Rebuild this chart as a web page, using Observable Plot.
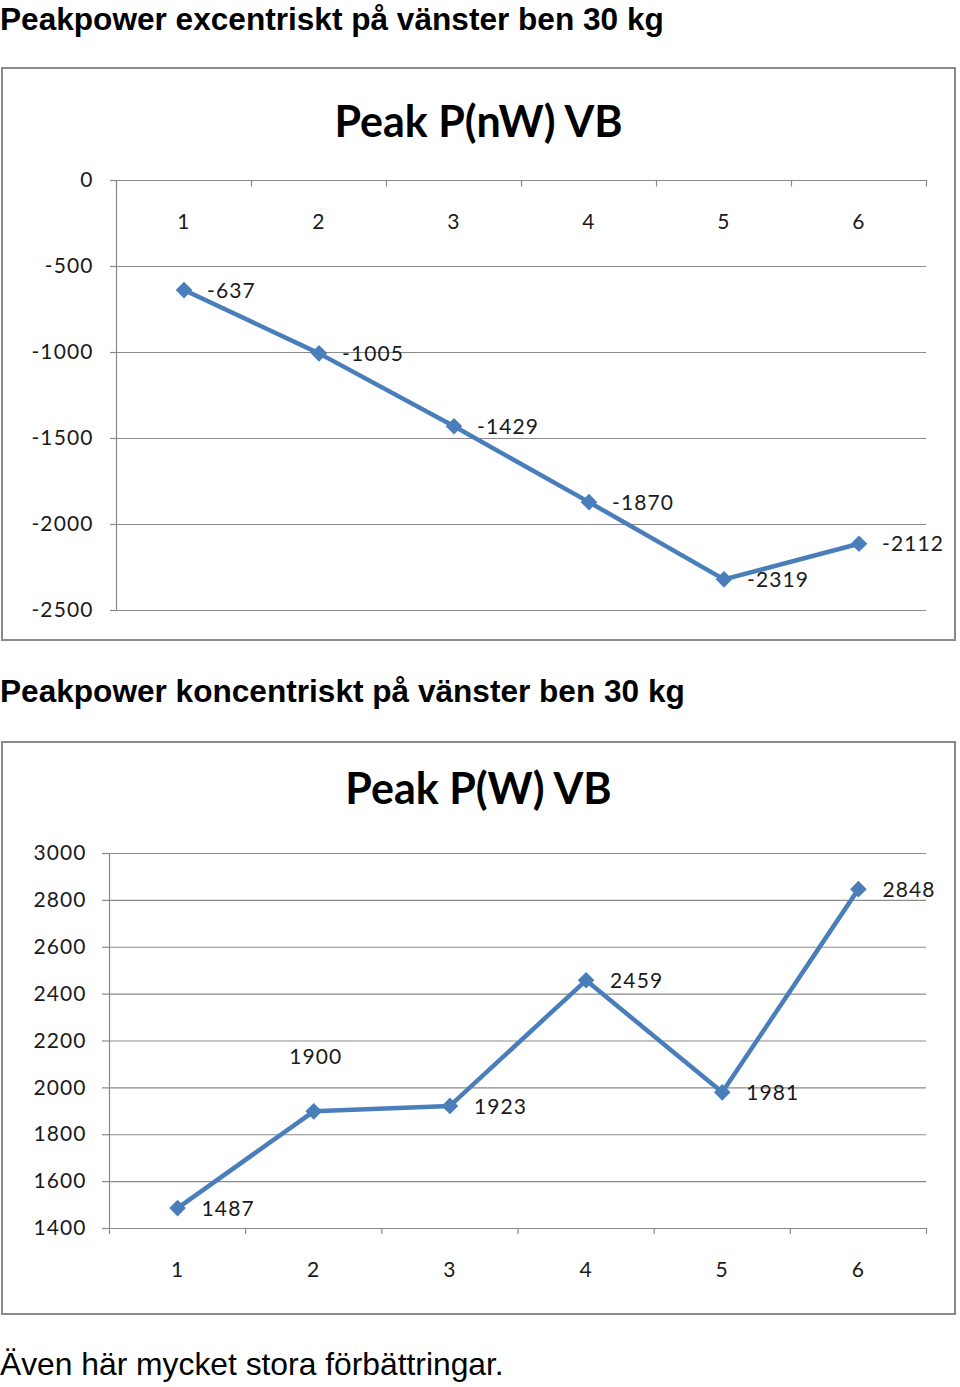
<!DOCTYPE html>
<html>
<head>
<meta charset="utf-8">
<script src="https://cdn.jsdelivr.net/npm/d3@7"></script>
<script src="https://cdn.jsdelivr.net/npm/@observablehq/plot@0.6"></script>
<style>
  html, body { margin: 0; padding: 0; background: #fff; }
  #page { position: relative; width: 960px; height: 1387px; overflow: hidden; }
  .h { position: absolute; left: 0; font-family: "Liberation Sans", Arial, sans-serif; font-weight: bold; font-size: 31.6px; line-height: 32px; color: #000; white-space: nowrap; }
  .cap { position: absolute; left: 0; font-family: "Liberation Sans", Arial, sans-serif; font-size: 31.8px; line-height: 32px; color: #000; white-space: nowrap; }
  .box { position: absolute; left: 1px; width: 951px; height: 570px; border: 2px solid #8a8a8a; background: #fff; }
  .ctitle { position: absolute; left: 0; width: 100%; text-align: center; font-family: Lato, "Open Sans", sans-serif; font-weight: bold; font-size: 43px; line-height: 43px; color: #000; }
  .box svg { position: absolute; left: 0; top: 0; }
</style>
</head>
<body>
<div id="page">
  <div class="h" style="top:3px">Peakpower excentriskt på vänster ben 30 kg</div>
  <div class="box" id="box1" style="top:67px"><div class="ctitle" style="top:30px">Peak P(nW) VB</div></div>
  <div class="h" style="top:675px">Peakpower koncentriskt på vänster ben 30 kg</div>
  <div class="box" id="box2" style="top:741px"><div class="ctitle" style="top:23px">Peak P(W) VB</div></div>
  <div class="cap" style="top:1348px">Även här mycket stora förbättringar.</div>
</div>
<script>
// ---- data ----
const categories = [1, 2, 3, 4, 5, 6];
const eccentricValues = [-637, -1005, -1429, -1870, -2319, -2112];
const concentricValues = [1487, 1900, 1923, 2459, 1981, 2848];
const yTicksEcc = [0, -500, -1000, -1500, -2000, -2500];
const yTicksCon = [1400, 1600, 1800, 2000, 2200, 2400, 2600, 2800, 3000];
const categoryBounds = [0.5, 1.5, 2.5, 3.5, 4.5, 5.5, 6.5];

const blue = "#4a7ebb";
const grid = "#8a8a8a";
const ink = "#1a1a1a";
const fmt = d => String(d);

const ecc = categories.map((c, i) => ({x: c, y: eccentricValues[i]}));
const con = categories.map((c, i) => ({x: c, y: concentricValues[i]}));

const baseStyle = {fontFamily: "Lato, 'Open Sans', sans-serif", fontSize: "21px", letterSpacing: "1.1px", color: ink, background: "transparent", overflow: "visible"};

const chart1 = Plot.plot({
  width: 951, height: 570,
  marginLeft: 113, marginRight: 28, marginTop: 111, marginBottom: 29,
  style: baseStyle,
  x: {domain: [0.5, 6.5], axis: null},
  y: {domain: [-2500, 0]},
  marks: [
    Plot.ruleY(yTicksEcc, {stroke: grid, strokeWidth: 1.2}),
    Plot.axisY({ticks: yTicksEcc, label: null, tickSize: 6, tickPadding: 17, stroke: grid, fill: ink, tickFormat: fmt, fontSize: 21, strokeWidth: 1.2}),
    Plot.ruleX([0.5], {stroke: grid, strokeWidth: 1.2}),
    Plot.ruleX(categoryBounds, {y1: 0, y2: -38, stroke: grid, strokeWidth: 1.2}),
    Plot.text(categories, {x: d => d, y: 0, dy: 42, text: fmt, fill: ink}),
    Plot.line(ecc, {x: "x", y: "y", stroke: blue, strokeWidth: 4.5}),
    Plot.dot(ecc, {x: "x", y: "y", symbol: "diamond2", r: 7.5, fill: blue, stroke: "none"}),
    Plot.text(ecc, {x: "x", y: "y", text: d => fmt(d.y), textAnchor: "start", dx: 23, dy: 1, fill: ink})
  ]
});
document.getElementById("box1").appendChild(chart1);

const chart2 = Plot.plot({
  width: 951, height: 570,
  marginLeft: 106, marginRight: 28, marginTop: 110, marginBottom: 85,
  style: baseStyle,
  x: {domain: [0.5, 6.5], axis: null},
  y: {domain: [1400, 3000]},
  marks: [
    Plot.ruleY(yTicksCon, {stroke: grid, strokeWidth: 1.2}),
    Plot.axisY({ticks: yTicksCon, label: null, tickSize: 7, tickPadding: 16, stroke: grid, fill: ink, tickFormat: fmt, fontSize: 21, strokeWidth: 1.2}),
    Plot.ruleX([0.5], {stroke: grid, strokeWidth: 1.2}),
    Plot.ruleX(categoryBounds, {y1: 1400, y2: 1374, stroke: grid, strokeWidth: 1.2}),
    Plot.text(categories, {x: d => d, y: 1400, dy: 42, text: fmt, fill: ink}),
    Plot.line(con, {x: "x", y: "y", stroke: blue, strokeWidth: 4.5}),
    Plot.dot(con, {x: "x", y: "y", symbol: "diamond2", r: 7.5, fill: blue, stroke: "none"}),
    Plot.text(con, {filter: (d, i) => i !== 1, x: "x", y: "y", text: d => fmt(d.y), textAnchor: "start", dx: 24, dy: 1, fill: ink}),
    Plot.text(con, {filter: (d, i) => i === 1, x: "x", y: "y", text: d => fmt(d.y), textAnchor: "middle", dx: 2, dy: -54, fill: ink})
  ]
});
document.getElementById("box2").appendChild(chart2);
</script>
</body>
</html>
